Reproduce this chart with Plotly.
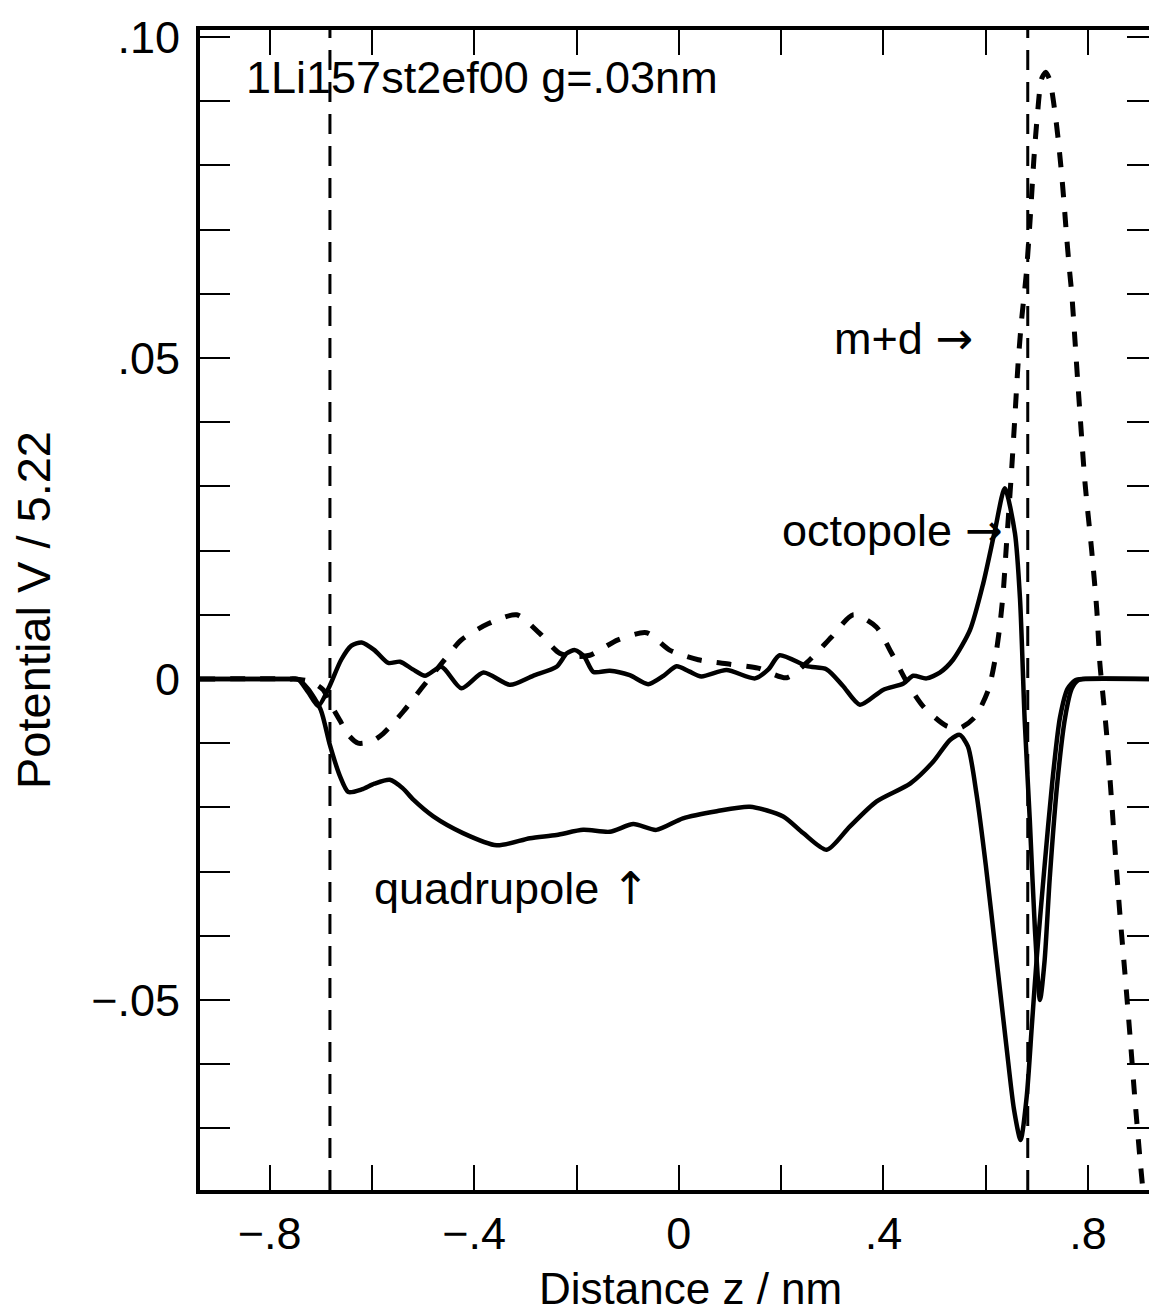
import plotly.graph_objects as go

# ---- data ----
z_quad = [-0.936, -0.76, -0.745, -0.725, -0.70, -0.682, -0.663, -0.646, -0.62, -0.595, -0.565, -0.540,
          -0.519, -0.48, -0.422, -0.356, -0.291, -0.239, -0.187, -0.135, -0.089, -0.044, 0.008, 0.074,
          0.139, 0.204, 0.243, 0.289, 0.334, 0.386, 0.452, 0.497, 0.530, 0.549, 0.565, 0.582, 0.60,
          0.62, 0.64, 0.655, 0.668, 0.68, 0.69, 0.70, 0.715, 0.73, 0.745, 0.76, 0.775, 0.79, 0.919]
v_quad = [0, 0, 0, -0.0015, -0.0048, -0.0103, -0.0150, -0.0176, -0.0172, -0.0163, -0.0157, -0.0170,
          -0.0188, -0.0214, -0.0240, -0.0259, -0.0248, -0.0243, -0.0235, -0.0238, -0.0226, -0.0235, -0.0217, -0.0206,
          -0.0199, -0.0214, -0.0240, -0.0266, -0.0230, -0.0191, -0.0163, -0.0129, -0.0095, -0.0087, -0.0105, -0.0180, -0.0290,
          -0.0430, -0.0570, -0.0670, -0.0718, -0.0650, -0.0540, -0.0430, -0.0290, -0.0160, -0.0060, -0.0015, -0.0002, 0, 0]

z_oct = [-0.936, -0.76, -0.745, -0.725, -0.705, -0.685, -0.66, -0.64, -0.62, -0.595, -0.568, -0.545,
         -0.52, -0.496, -0.464, -0.425, -0.382, -0.33, -0.285, -0.239, -0.219, -0.203, -0.185, -0.167,
         -0.135, -0.096, -0.06, -0.03, -0.0045, 0.02, 0.044, 0.093, 0.149, 0.175, 0.197, 0.25, 0.289,
         0.32, 0.354, 0.399, 0.439, 0.458, 0.484, 0.51, 0.536, 0.569, 0.595, 0.618, 0.637, 0.657, 0.667,
         0.676, 0.686, 0.696, 0.706, 0.715, 0.725, 0.74, 0.755, 0.768, 0.78, 0.79, 0.919]
v_oct = [0, 0, 0, -0.0020, -0.0042, -0.0015, 0.0030, 0.0052, 0.0057, 0.0045, 0.0025, 0.0027,
         0.0015, 0.0005, 0.0019, -0.00145, 0.0010, -0.0009, 0.0005, 0.0019, 0.0040, 0.0045, 0.0035, 0.0011,
         0.0013, 0.0006, -0.0008, 0.0005, 0.0020, 0.0012, 0.0004, 0.0014, 0.0001, 0.0015, 0.0037, 0.0020, 0.0015,
         -0.0010, -0.0040, -0.0017, -0.0007, 0.0005, 0.0001, 0.0010, 0.0030, 0.0076, 0.0149, 0.0232, 0.0297, 0.0227, 0.0123,
         -0.0064, -0.0220, -0.0390, -0.0500, -0.0438, -0.0310, -0.0160, -0.0060, -0.0015, -0.0002, 0, 0]

z_md = [-0.936, -0.76, -0.73, -0.71, -0.695, -0.68, -0.663, -0.645, -0.627, -0.60, -0.578, -0.539,
        -0.503, -0.461, -0.425, -0.373, -0.317, -0.272, -0.233, -0.20, -0.174, -0.119, -0.063, -0.018,
        0.038, 0.10, 0.155, 0.211, 0.256, 0.298, 0.341, 0.386, 0.416, 0.445, 0.478, 0.523, 0.55, 0.579,
        0.605, 0.618, 0.627, 0.634, 0.640, 0.650, 0.657, 0.663, 0.670, 0.679, 0.687, 0.694, 0.701, 0.709,
        0.717, 0.725, 0.735, 0.742, 0.748, 0.753, 0.758, 0.763, 0.768, 0.780, 0.794, 0.807, 0.817, 0.823,
        0.830, 0.836, 0.845, 0.853, 0.862, 0.872, 0.882, 0.891, 0.901, 0.910]
v_md = [0, 0, -0.0002, -0.0008, -0.0017, -0.0040, -0.0064, -0.0088, -0.0100, -0.0097, -0.0085, -0.0051,
        -0.00145, 0.0027, 0.0061, 0.0086, 0.0100, 0.0071, 0.0040, 0.0035, 0.0037, 0.0061, 0.0072, 0.0045,
        0.0030, 0.0023, 0.0017, 0.0002, 0.0030, 0.0065, 0.0100, 0.0081, 0.0040, -0.0004, -0.0043, -0.0073, -0.0076, -0.0059,
        -0.0017, 0.0030, 0.0080, 0.0135, 0.0205, 0.0320, 0.0410, 0.0490, 0.0560, 0.0630, 0.0720, 0.0810, 0.0880, 0.0935,
        0.0945, 0.0933, 0.0884, 0.0837, 0.0788, 0.0741, 0.0689, 0.0642, 0.0600, 0.0460, 0.0305, 0.0200, 0.0107, 0.0024,
        -0.0033, -0.0084, -0.0180, -0.0270, -0.0365, -0.0459, -0.0557, -0.0650, -0.0744, -0.0820]

boundaries = [-0.682, 0.682]

x_tick_vals = [-0.8, -0.6, -0.4, -0.2, 0, 0.2, 0.4, 0.6, 0.8]
x_tick_text = ["\u2212.8", "", "\u2212.4", "", "0", "", ".4", "", ".8"]
y_tick_vals = [-0.07, -0.06, -0.05, -0.04, -0.03, -0.02, -0.01, 0, 0.01, 0.02, 0.03, 0.04,
               0.05, 0.06, 0.07, 0.08, 0.09, 0.10]
y_tick_text = ["", "", "\u2212.05", "", "", "", "", "0", "", "", "", "",
               ".05", "", "", "", "", ".10"]

ARROW = '<span style="font-family:DejaVu Sans">{}</span>'
label_text = ["1Li157st2ef00 g=.03nm",
              "m+d " + ARROW.format("\u2192"),
              "octopole " + ARROW.format("\u2192"),
              "quadrupole " + ARROW.format("\u2191")]
label_z = [-0.850, 0.299, 0.197, -0.600]
label_v = [0.0937, 0.0530, 0.0232, -0.0326]

x_title = "Distance z / nm"
y_title = "Potential V / 5.22"

FONT = "Liberation Sans, Arial, Helvetica, sans-serif"

fig = go.Figure()
fig.add_trace(go.Scatter(x=z_quad, y=v_quad, mode="lines", yaxis="y2",
                         line=dict(color="black", width=4.5, shape="spline", smoothing=0.7),
                         showlegend=False, hoverinfo="skip"))
fig.add_trace(go.Scatter(x=z_oct, y=v_oct, mode="lines",
                         line=dict(color="black", width=4.5, shape="spline", smoothing=0.7),
                         showlegend=False, hoverinfo="skip"))
fig.add_trace(go.Scatter(x=z_md, y=v_md, mode="lines",
                         line=dict(color="black", width=5, dash="15px,15px", shape="spline", smoothing=0.7),
                         showlegend=False, hoverinfo="skip"))

for b in boundaries:
    fig.add_shape(type="line", xref="x", yref="paper", x0=b, x1=b, y0=0, y1=1,
                  line=dict(color="black", width=3, dash="20px,12px"))

for t, zx, vy in zip(label_text, label_z, label_v):
    fig.add_annotation(x=zx, y=vy, xref="x", yref="y", text=t, showarrow=False,
                       xanchor="left", yanchor="middle",
                       font=dict(family=FONT, size=45, color="black"))

fig.add_annotation(x=0.517, y=-0.085, xref="paper", yref="paper", text=x_title,
                   showarrow=False, xanchor="center", yanchor="middle",
                   font=dict(family=FONT, size=44, color="black"))
fig.add_annotation(x=-0.176, y=0.5, xref="paper", yref="paper", text=y_title,
                   showarrow=False, xanchor="center", yanchor="middle", textangle=-90,
                   font=dict(family=FONT, size=47, color="black"))

fig.update_layout(
    width=1149, height=1316,
    margin=dict(l=200, r=0, t=30, b=126),
    paper_bgcolor="white", plot_bgcolor="white",
    font=dict(family=FONT, color="black"),
    xaxis=dict(range=[-0.936, 0.919], tickmode="array", tickvals=x_tick_vals, ticktext=x_tick_text,
               ticks="inside", ticklen=25, tickwidth=2, tickcolor="black",
               showline=True, linewidth=4, linecolor="black", mirror="ticks",
               showgrid=False, zeroline=False, ticklabelstandoff=1,
               tickfont=dict(family=FONT, size=45, color="black")),
    yaxis=dict(range=[-0.0796, 0.1011], tickmode="array", tickvals=y_tick_vals, ticktext=y_tick_text,
               ticks="inside", ticklen=30, tickwidth=2, tickcolor="black",
               showline=True, linewidth=4, linecolor="black", mirror=False,
               showgrid=False, zeroline=False, ticklabelstandoff=7,
               tickfont=dict(family=FONT, size=45, color="black")),
    yaxis2=dict(matches="y", overlaying="y", side="right", anchor="x",
                tickmode="array", tickvals=y_tick_vals, ticks="inside", ticklen=22, tickwidth=2,
                tickcolor="black", showticklabels=False, showline=False, showgrid=False, zeroline=False),
)

fig.write_html("out.html")
